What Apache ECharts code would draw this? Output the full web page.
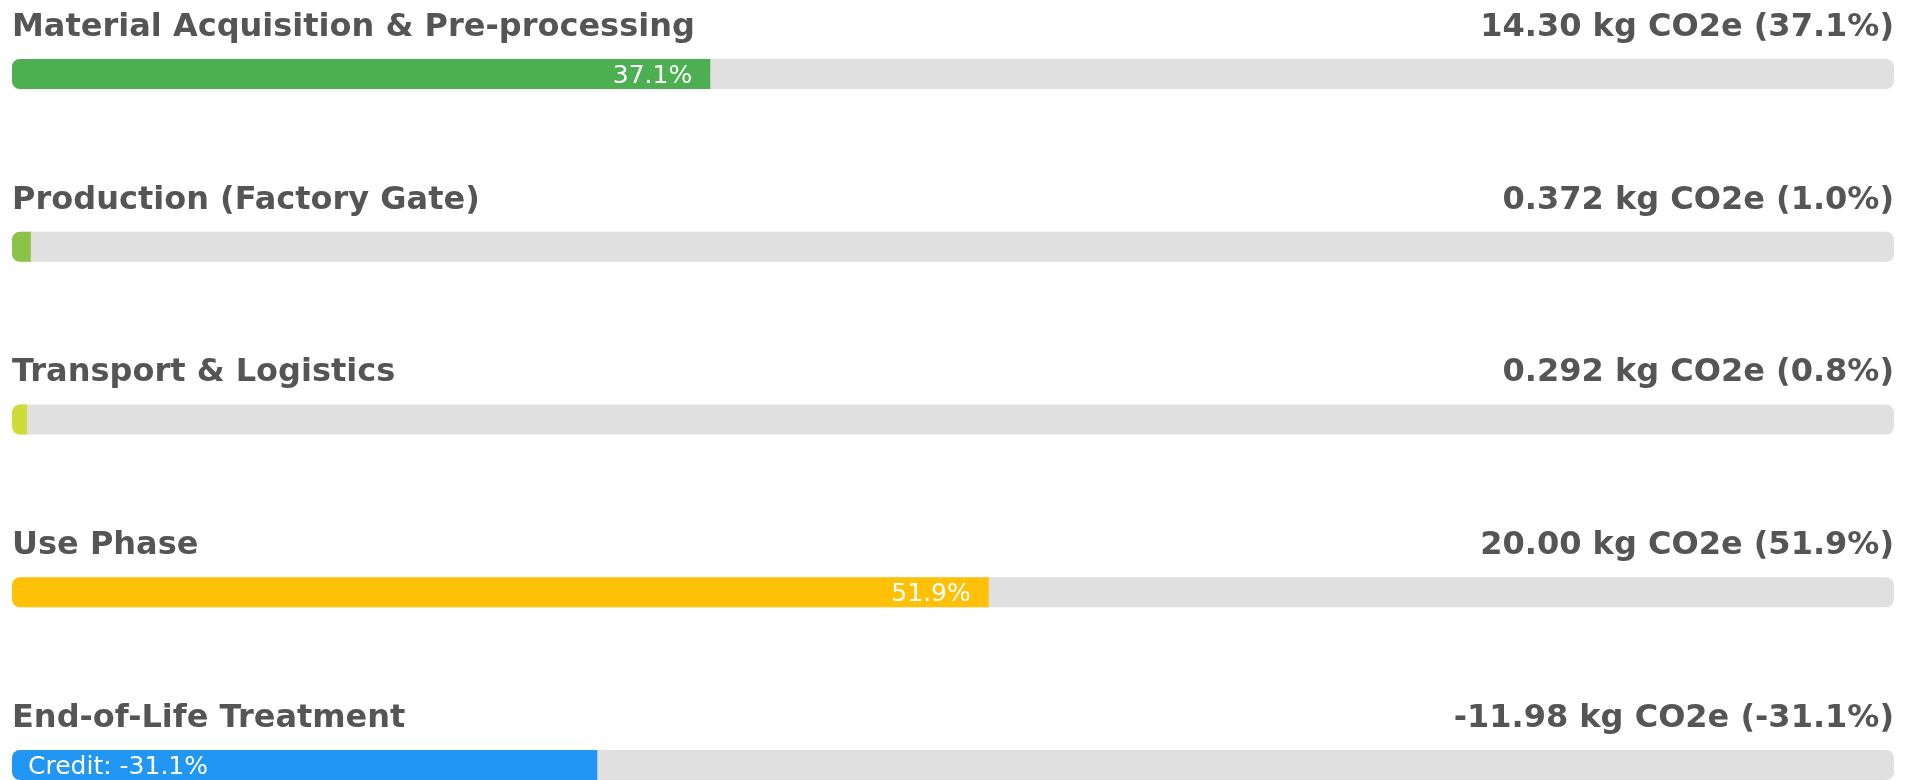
<!DOCTYPE html>
<html>
<head>
<meta charset="utf-8">
<script src="https://cdn.jsdelivr.net/npm/echarts@6/dist/echarts.min.js"></script>
<style>
html,body{margin:0;padding:0;background:#fff;}
#chart{width:1916px;height:780px;}
</style>
</head>
<body>
<div id="chart"></div>
<script>
const stages = ['Material Acquisition & Pre-processing', 'Production (Factory Gate)', 'Transport & Logistics', 'Use Phase', 'End-of-Life Treatment'];
const emissionsText = ['14.30', '0.372', '0.292', '20.00', '-11.98'];
const emissionsKg = [14.30, 0.372, 0.292, 20.00, -11.98];
const sharePct = [37.1, 1.0, 0.8, 51.9, -31.1];
const barColors = ['#4CAF50', '#8BC34A', '#CDDC39', '#FFC107', '#2196F3'];
const trackMax = [100, 100, 100, 100, 100];

const FONT = 'DejaVu Sans';
const TEXT = '#555555';

const fillData = sharePct.map((p, i) => {
  const neg = p < 0;
  return {
    value: Math.abs(p),
    itemStyle: { color: barColors[i] },
    label: {
      show: Math.abs(p) >= 5,
      position: neg ? 'insideLeft' : 'insideRight',
      distance: neg ? 16 : 18,
      formatter: neg ? ('Credit: ' + p.toFixed(1) + '%') : (p.toFixed(1) + '%')
    }
  };
});

const chart = echarts.init(document.getElementById('chart'), null, { renderer: 'canvas' });
chart.setOption({
  animation: false,
  grid: { left: 12, right: 22, top: 74, bottom: 15, containLabel: false },
  xAxis: { type: 'value', min: 0, max: 100, show: false },
  yAxis: { type: 'category', data: stages, inverse: true, boundaryGap: false, show: false },
  series: [
    {
      name: 'track', type: 'bar', barWidth: 30, barGap: '-100%', silent: true,
      data: trackMax,
      itemStyle: { color: '#E0E0E0', borderRadius: 8 },
      label: {
        show: true, position: [0, -31.5], align: 'left', verticalAlign: 'middle',
        fontFamily: FONT, fontWeight: 'bold', fontSize: 32, color: TEXT,
        formatter: p => stages[p.dataIndex]
      }
    },
    {
      name: 'share', type: 'bar', barWidth: 30, barGap: '-100%',
      data: fillData,
      itemStyle: { borderRadius: [8, 0, 0, 8] },
      label: { fontFamily: FONT, fontSize: 25, color: '#ffffff', verticalAlign: 'middle', offset: [0, 2] }
    },
    {
      name: 'value', type: 'bar', barWidth: 30, barGap: '-100%', silent: true,
      data: trackMax,
      itemStyle: { color: 'rgba(0,0,0,0)' },
      label: {
        show: true, position: ['100%', -31.5], align: 'right', verticalAlign: 'middle',
        fontFamily: FONT, fontWeight: 'bold', fontSize: 32, color: TEXT,
        formatter: p => emissionsText[p.dataIndex] + ' kg CO2e (' + sharePct[p.dataIndex].toFixed(1) + '%)'
      }
    }
  ]
});
</script>
</body>
</html>
